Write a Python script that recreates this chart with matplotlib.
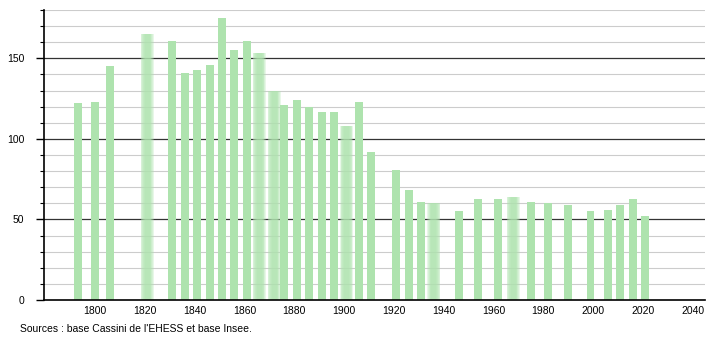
import numpy as np
import matplotlib
matplotlib.use("Agg")
import matplotlib.pyplot as plt
from matplotlib.ticker import MultipleLocator

years = [1793, 1800, 1806, 1821, 1831, 1836, 1841, 1846, 1851, 1856,
         1861, 1866, 1872, 1876, 1881, 1886, 1891, 1896, 1901, 1906,
         1911, 1921, 1926, 1931, 1936, 1946, 1954, 1962, 1968, 1975,
         1982, 1990, 1999, 2006, 2011, 2016, 2021]
population = [122, 123, 145, 165, 161, 141, 143, 146, 175, 155,
              161, 153, 130, 121, 124, 120, 117, 117, 108, 123,
              92, 81, 68, 61, 60, 55, 63, 63, 64, 61,
              60, 59, 55, 56, 59, 63, 52]
# years whose bars are drawn with blurred edges in the original
fuzzy_years = [1821, 1866, 1872, 1901, 1936, 1968]

bar_color = "#aee3ae"
bar_width = 3.2

fig = plt.figure(figsize=(7.1, 3.4), dpi=100)
ax = fig.add_axes([0.062, 0.1176, 0.931, 0.853])

for yv in range(10, 190, 10):
    if yv % 50 == 0:
        ax.axhline(yv, color="#333333", lw=0.9, zorder=1)
    else:
        ax.axhline(yv, color="#cccccc", lw=0.8, zorder=1)

for yr, pop in zip(years, population):
    if yr in fuzzy_years:
        for w in np.linspace(bar_width * 1.7, bar_width * 0.6, 6):
            ax.bar(yr, pop, width=w, color=bar_color, alpha=0.28, lw=0, zorder=2)
    else:
        ax.bar(yr, pop, width=bar_width, color=bar_color, lw=0, zorder=2)

ax.set_xlim(1779.5, 2045)
ax.set_ylim(0, 180)
ax.set_xticks(range(1800, 2041, 20))
ax.set_yticks([0, 50, 100, 150])
ax.yaxis.set_minor_locator(MultipleLocator(10))

ax.spines["top"].set_visible(False)
ax.spines["right"].set_visible(False)
ax.spines["left"].set_linewidth(1.2)
ax.spines["bottom"].set_linewidth(1.2)
ax.tick_params(axis="x", length=0, labelsize=7.5, pad=4)
ax.tick_params(axis="y", which="major", length=6, width=1.0, labelsize=7.5, pad=8)
ax.tick_params(axis="y", which="minor", length=3, width=0.8)

fig.text(0.028, 0.025, "Sources : base Cassini de l'EHESS et base Insee.",
         fontsize=7.5, family="Liberation Sans")
for lbl in ax.get_xticklabels() + ax.get_yticklabels():
    lbl.set_family("Liberation Sans")

fig.savefig("out.png", dpi=100)
plt.close(fig)
